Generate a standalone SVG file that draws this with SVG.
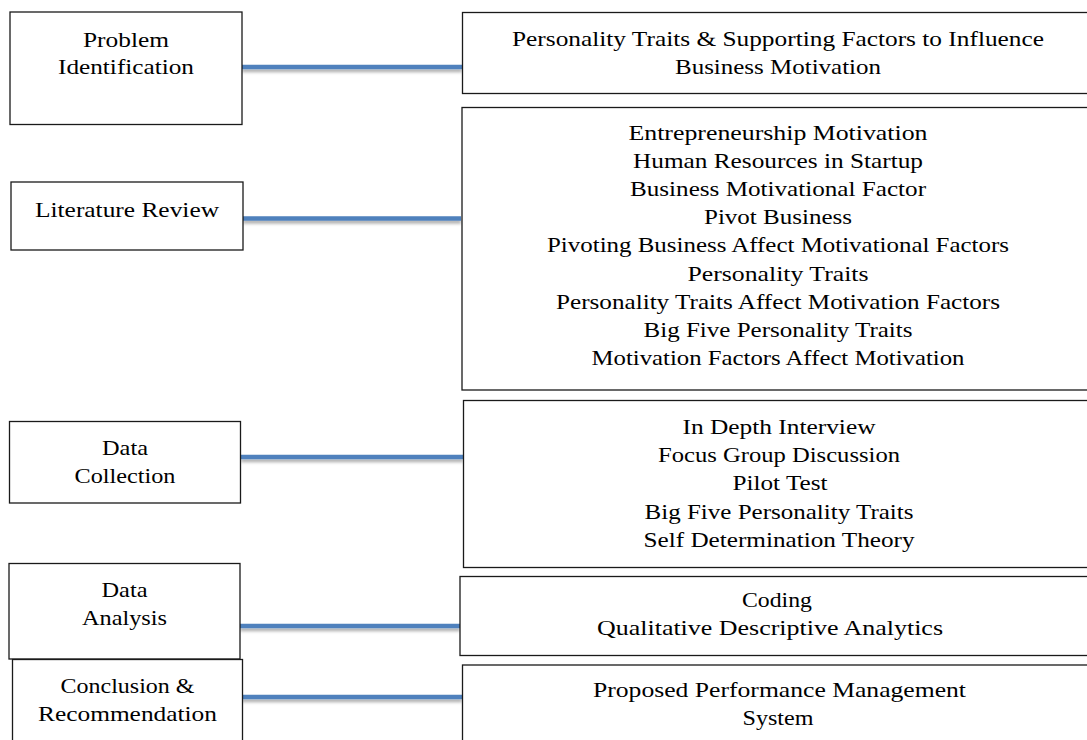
<svg xmlns="http://www.w3.org/2000/svg" width="1087" height="740" viewBox="0 0 1087 740">
<defs>
<filter id="shadow" filterUnits="userSpaceOnUse" x="0" y="0" width="1087" height="740">
<feDropShadow dx="0" dy="3" stdDeviation="1.5" flood-color="#000" flood-opacity="0.3"/>
</filter>
<style>
.box{fill:#fff;stroke:#1a1a1a;stroke-width:1.3}
.t{font-family:"Liberation Serif","Times New Roman",serif;font-size:22px;fill:#000;text-anchor:middle}
.conn{stroke:#4F81BD;stroke-width:4.5;fill:none}
</style>
</defs>
<rect width="1087" height="740" fill="#fff"/>
<g id="connectors" filter="url(#shadow)">
<line class="conn" x1="242" y1="67" x2="462" y2="67"/>
<line class="conn" x1="243" y1="218.5" x2="461" y2="218.5"/>
<line class="conn" x1="241" y1="457" x2="463" y2="457"/>
<line class="conn" x1="240" y1="626" x2="460" y2="626"/>
<line class="conn" x1="242" y1="697" x2="462" y2="697"/>
</g>
<g id="problem-identification">
<rect class="box" x="10" y="12" width="232" height="112.5"/>
<text class="t" x="126" y="46.5" textLength="86" lengthAdjust="spacingAndGlyphs">Problem</text>
<text class="t" x="126" y="74" textLength="136" lengthAdjust="spacingAndGlyphs">Identification</text>
</g>
<g id="literature-review">
<rect class="box" x="11" y="182" width="232" height="68"/>
<text class="t" x="127" y="216.5" textLength="184" lengthAdjust="spacingAndGlyphs">Literature Review</text>
</g>
<g id="data-collection">
<rect class="box" x="9.5" y="421.5" width="231" height="81.5"/>
<text class="t" x="125" y="455" textLength="46" lengthAdjust="spacingAndGlyphs">Data</text>
<text class="t" x="125" y="483" textLength="101" lengthAdjust="spacingAndGlyphs">Collection</text>
</g>
<g id="data-analysis">
<rect class="box" x="9" y="563.5" width="231" height="95.5"/>
<text class="t" x="124.5" y="597" textLength="46" lengthAdjust="spacingAndGlyphs">Data</text>
<text class="t" x="124.5" y="625" textLength="85" lengthAdjust="spacingAndGlyphs">Analysis</text>
</g>
<g id="conclusion-recommendation">
<rect class="box" x="12.5" y="659.5" width="230" height="95"/>
<text class="t" x="127.5" y="693" textLength="134" lengthAdjust="spacingAndGlyphs">Conclusion &amp;</text>
<text class="t" x="127.5" y="721" textLength="179" lengthAdjust="spacingAndGlyphs">Recommendation</text>
</g>
<g id="research-topic">
<rect class="box" x="462.5" y="12.5" width="640" height="81"/>
<text class="t" x="778" y="46" textLength="532" lengthAdjust="spacingAndGlyphs">Personality Traits &amp; Supporting Factors to Influence</text>
<text class="t" x="778" y="73.5" textLength="206" lengthAdjust="spacingAndGlyphs">Business Motivation</text>
</g>
<g id="literature-topics">
<rect class="box" x="462" y="107.5" width="640" height="282.5"/>
<text class="t" x="778" y="140" textLength="299" lengthAdjust="spacingAndGlyphs">Entrepreneurship Motivation</text>
<text class="t" x="778" y="168" textLength="290" lengthAdjust="spacingAndGlyphs">Human Resources in Startup</text>
<text class="t" x="778" y="196" textLength="296" lengthAdjust="spacingAndGlyphs">Business Motivational Factor</text>
<text class="t" x="778" y="224" textLength="148" lengthAdjust="spacingAndGlyphs">Pivot Business</text>
<text class="t" x="778" y="252" textLength="462" lengthAdjust="spacingAndGlyphs">Pivoting Business Affect Motivational Factors</text>
<text class="t" x="778" y="280.5" textLength="181" lengthAdjust="spacingAndGlyphs">Personality Traits</text>
<text class="t" x="778" y="308.5" textLength="444" lengthAdjust="spacingAndGlyphs">Personality Traits Affect Motivation Factors</text>
<text class="t" x="778" y="336.5" textLength="269" lengthAdjust="spacingAndGlyphs">Big Five Personality Traits</text>
<text class="t" x="778" y="364.5" textLength="373" lengthAdjust="spacingAndGlyphs">Motivation Factors Affect Motivation</text>
</g>
<g id="collection-methods">
<rect class="box" x="463.5" y="400.5" width="640" height="167"/>
<text class="t" x="779" y="434" textLength="193" lengthAdjust="spacingAndGlyphs">In Depth Interview</text>
<text class="t" x="779" y="462" textLength="242" lengthAdjust="spacingAndGlyphs">Focus Group Discussion</text>
<text class="t" x="780" y="490" textLength="95" lengthAdjust="spacingAndGlyphs">Pilot Test</text>
<text class="t" x="779" y="518.5" textLength="269" lengthAdjust="spacingAndGlyphs">Big Five Personality Traits</text>
<text class="t" x="779" y="546.5" textLength="271" lengthAdjust="spacingAndGlyphs">Self Determination Theory</text>
</g>
<g id="analysis-methods">
<rect class="box" x="460" y="576.5" width="640" height="79"/>
<text class="t" x="777" y="606.5" textLength="70" lengthAdjust="spacingAndGlyphs">Coding</text>
<text class="t" x="770" y="635" textLength="346" lengthAdjust="spacingAndGlyphs">Qualitative Descriptive Analytics</text>
</g>
<g id="outcome">
<rect class="box" x="462.5" y="665" width="640" height="90"/>
<text class="t" x="779.5" y="696.5" textLength="373" lengthAdjust="spacingAndGlyphs">Proposed Performance Management</text>
<text class="t" x="778" y="725" textLength="71" lengthAdjust="spacingAndGlyphs">System</text>
</g>
</svg>
